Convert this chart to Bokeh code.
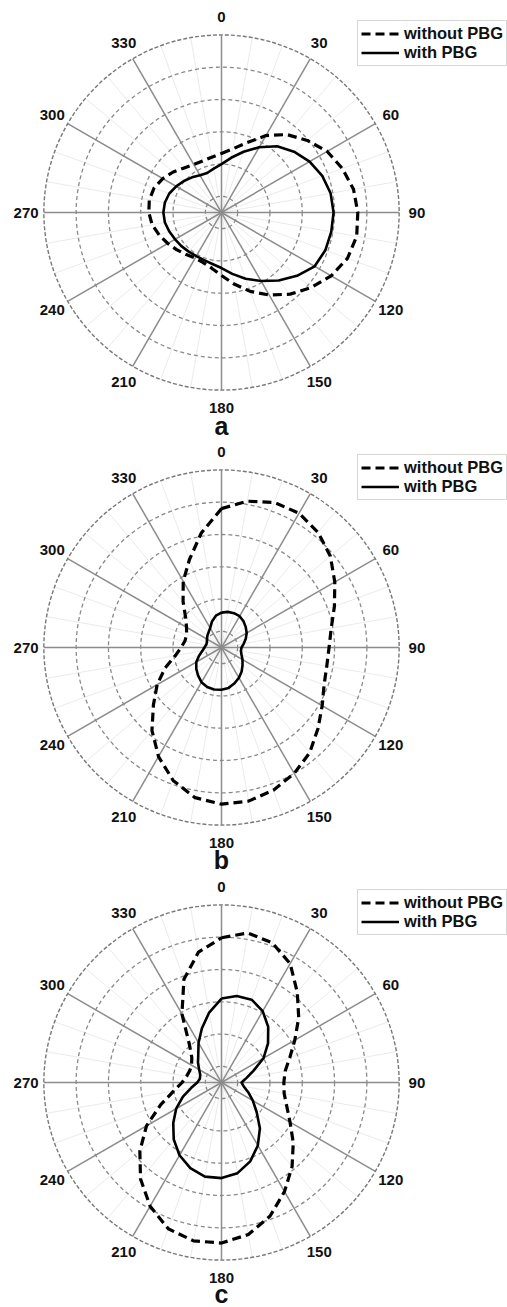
import numpy as np
from bokeh.plotting import figure
from bokeh.layouts import column
from bokeh.models import Range1d, Legend, LegendItem
from bokeh.core.properties import value
from bokeh.embed import file_html
from bokeh.resources import INLINE

# ---------------- data ----------------
angles = [0, 10, 20, 30, 40, 50, 60, 70, 80, 90, 100, 110,
          120, 130, 140, 150, 160, 170, 180, 190, 200, 210, 220, 230,
          240, 250, 260, 270, 280, 290, 300, 310, 320, 330, 340, 350]

tick_angles = [0, 30, 60, 90, 120, 150, 180, 210, 240, 270, 300, 330]
tick_labels = ["0", "30", "60", "90", "120", "150", "180", "210", "240", "270", "300", "330"]
minor_angles = [10, 20, 40, 50, 70, 80, 100, 110, 130, 140, 160, 170,
                190, 200, 220, 230, 250, 260, 280, 290, 310, 320, 340, 350]
ring_radii = [0.5, 1.5, 2.5, 3.5, 4.5]
outer_radius = 5.5

panel_labels = ["a", "b", "c"]
legend_labels = ["without PBG", "with PBG"]

a_without = [1.83, 2.0, 2.3, 2.75, 3.15, 3.47, 3.78, 3.98, 4.15, 4.22, 4.25, 4.15,
             3.92, 3.62, 3.3, 2.95, 2.6, 2.25, 1.95, 1.75, 1.65, 1.63, 1.7, 1.8,
             1.92, 2.05, 2.18, 2.25, 2.27, 2.22, 2.1, 1.95, 1.8, 1.72, 1.7, 1.74]
a_with = [1.5, 1.72, 2.0, 2.33, 2.68, 2.93, 3.15, 3.32, 3.43, 3.47, 3.45, 3.42,
          3.33, 3.05, 2.75, 2.45, 2.18, 1.93, 1.72, 1.62, 1.57, 1.56, 1.58, 1.62,
          1.66, 1.72, 1.78, 1.8, 1.78, 1.72, 1.62, 1.52, 1.42, 1.33, 1.3, 1.38]

b_without = [4.3, 4.6, 4.78, 4.8, 4.65, 4.4, 4.05, 3.72, 3.45, 3.33, 3.31, 3.38,
             3.6, 3.9, 4.25, 4.5, 4.7, 4.83, 4.85, 4.72, 4.38, 3.9, 3.35, 2.75,
             2.3, 1.86, 1.45, 1.25, 1.15, 1.15, 1.25, 1.45, 1.85, 2.37, 2.9, 3.6]
b_with = [1.08, 1.12, 1.13, 1.12, 1.06, 0.98, 0.9, 0.8, 0.7, 0.62, 0.61, 0.66,
          0.75, 0.85, 0.97, 1.08, 1.18, 1.27, 1.31, 1.32, 1.3, 1.24, 1.13, 1.02,
          0.9, 0.74, 0.6, 0.53, 0.48, 0.48, 0.52, 0.57, 0.62, 0.7, 0.86, 1.0]

c_without = [4.48, 4.7, 4.6, 4.25, 3.65, 3.12, 2.62, 2.25, 2.0, 1.93, 1.97, 2.15,
             2.45, 2.9, 3.4, 3.9, 4.4, 4.78, 4.97, 4.98, 4.82, 4.42, 3.9, 3.3,
             2.68, 2.0, 1.5, 1.22, 1.1, 1.05, 1.07, 1.2, 1.55, 2.45, 3.4, 4.1]
c_with = [2.6, 2.72, 2.73, 2.55, 2.25, 1.88, 1.5, 1.05, 0.78, 0.62, 0.7, 0.88,
          1.12, 1.42, 1.85, 2.25, 2.6, 2.85, 2.96, 2.96, 2.82, 2.6, 2.3, 1.95,
          1.62, 1.27, 0.95, 0.75, 0.68, 0.7, 0.8, 0.95, 1.12, 1.42, 1.78, 2.2]

# ---------------- layout constants ----------------
S = 32.3           # pixels per radial unit
W = 507
CX = 221           # x of polar centre (px)
LABEL_R = 6.05
FONT = "Liberation Sans"


def polar_xy(theta_deg, r):
    t = np.radians(np.asarray(theta_deg, dtype=float))
    r = np.asarray(r, dtype=float)
    return r * np.sin(t), r * np.cos(t)


def closed(theta, r):
    return list(theta) + [theta[0]], list(r) + [r[0]]


def make_panel(without, with_, letter, height, cy, letter_px, legend_top):
    p = figure(width=W, height=height,
               x_range=Range1d(-CX / S, (W - CX) / S),
               y_range=Range1d(-(height - cy) / S, cy / S),
               output_backend="svg", toolbar_location=None,
               min_border=0, outline_line_color=None,
               x_axis_location=None, y_axis_location=None,
               background_fill_color="white", border_fill_color="white")
    p.grid.visible = False

    # faint 10-degree spokes
    mx, my = polar_xy(minor_angles, [outer_radius] * len(minor_angles))
    p.segment(x0=[0] * len(mx), y0=[0] * len(my), x1=mx, y1=my,
              line_color="#ebebeb", line_width=1)

    # dashed rings
    p.circle(x=[0] * len(ring_radii), y=[0] * len(ring_radii), radius=ring_radii,
             fill_color=None, line_color="#8a8a8a", line_width=1.3, line_dash="4 3")
    p.circle(x=[0], y=[0], radius=[outer_radius], fill_color=None,
             line_color="#787878", line_width=1.4, line_dash="4 2")

    # major 30-degree spokes
    tx, ty = polar_xy(tick_angles, [outer_radius] * len(tick_angles))
    p.segment(x0=[0] * len(tx), y0=[0] * len(ty), x1=tx, y1=ty,
              line_color="#8c8c8c", line_width=1.5)

    # curves
    th, rr = closed(angles, without)
    dx, dy = polar_xy(th, rr)
    r_dash = p.line(dx, dy, line_color="black", line_width=3.2, line_dash="9 5",
                    line_join="round")
    th, rr = closed(angles, with_)
    sx, sy = polar_xy(th, rr)
    r_solid = p.line(sx, sy, line_color="black", line_width=2.6, line_join="round")

    # angle labels
    lx, ly = polar_xy(tick_angles, [LABEL_R] * len(tick_angles))
    p.text(x=lx, y=ly, text=tick_labels, text_font=value(FONT),
           text_font_style="bold", text_font_size="15px", text_color="#111111",
           text_align="center", text_baseline="middle")

    # panel letter
    p.text(x=[0], y=[(cy - letter_px) / S], text=[letter], text_font=value(FONT),
           text_font_style="bold", text_font_size="25px", text_color="#111111",
           text_align="center", text_baseline="middle")

    legend = Legend(items=[LegendItem(label=legend_labels[0], renderers=[r_dash]),
                           LegendItem(label=legend_labels[1], renderers=[r_solid])],
                    location=(357, height - legend_top - 44),
                    label_text_font=FONT, label_text_font_style="bold",
                    label_text_font_size="16.5px", label_text_color="#111111",
                    glyph_width=38, glyph_height=19, label_height=19,
                    label_standoff=5, padding=3, spacing=0, margin=0,
                    border_line_color="#b0b0b0", border_line_width=1,
                    background_fill_color="white", background_fill_alpha=1.0)
    p.add_layout(legend)
    return p


pa = make_panel(a_without, a_with, panel_labels[0], 438, 212, 425, 22)
pb = make_panel(b_without, b_with, panel_labels[1], 436, 209, 421.5, 18)
pc = make_panel(c_without, c_with, panel_labels[2], 433, 208, 419.5, 17)

layout = column(pa, pb, pc, spacing=0)
open("out.html", "w").write(file_html(layout, INLINE))
